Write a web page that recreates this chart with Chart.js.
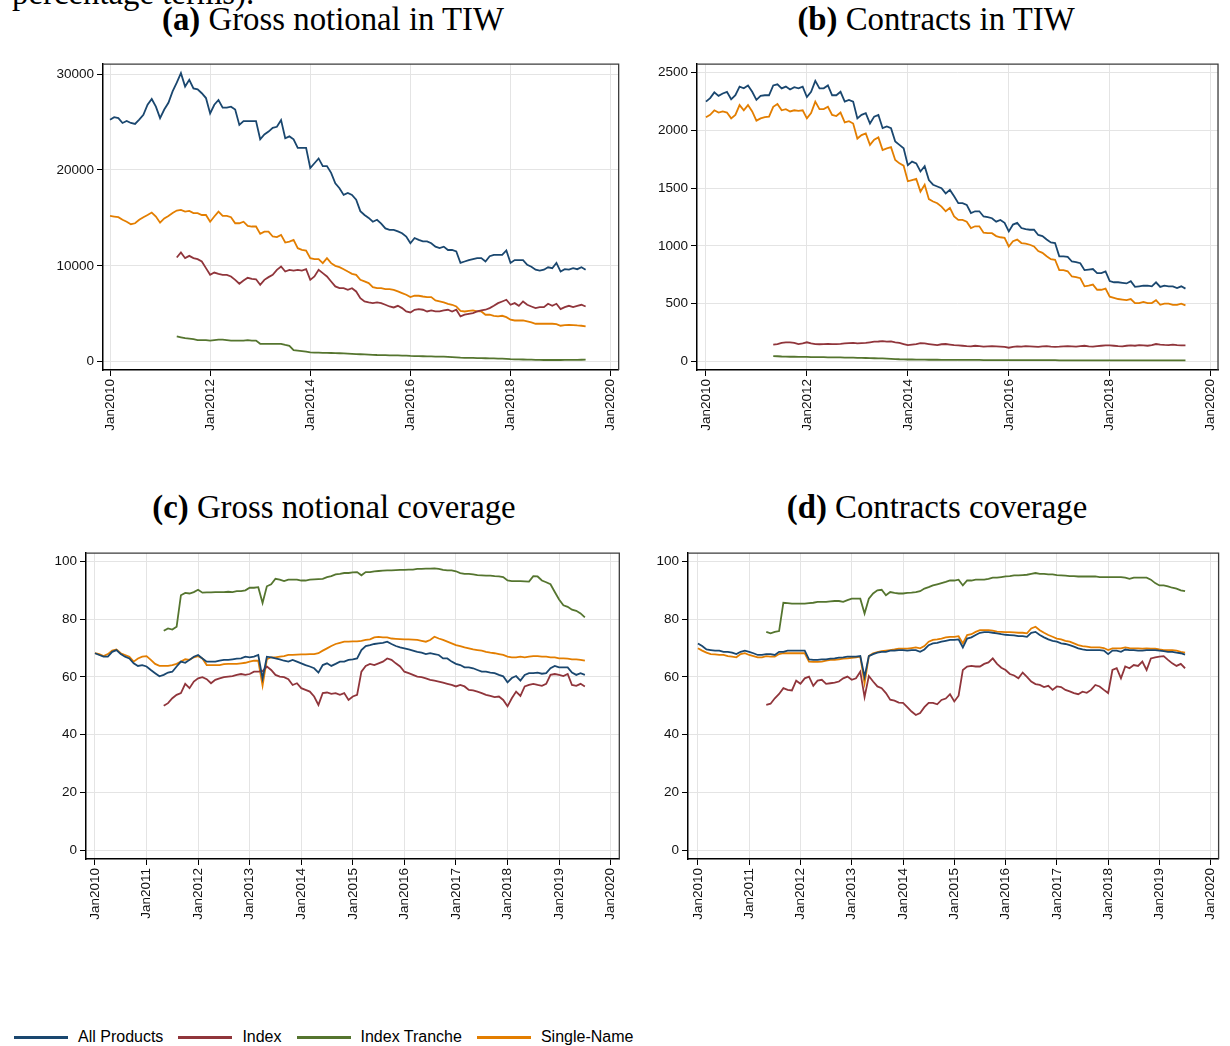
<!DOCTYPE html>
<html>
<head>
<meta charset="utf-8">
<script src="https://cdn.jsdelivr.net/npm/chart.js@4.4.1/dist/chart.umd.min.js"></script>
<style>
  body { margin:0; background:#fff; width:1230px; height:1046px; position:relative; overflow:hidden; font-family:"Liberation Sans", Arial, sans-serif; }
  canvas { position:absolute; }
  .ttl { position:absolute; font-family:"Liberation Serif", serif; font-size:32.8px; line-height:32px; white-space:nowrap; color:#000; }
  .ttl.c { transform:translateX(-50%); }
  #legend { position:absolute; left:14px; top:1028px; display:flex; align-items:center; font-size:16px; color:#000; }
  #legend .ln { display:inline-block; width:54px; height:3px; margin-right:10px; }
  #legend .tx { margin-right:15px; }
</style>
</head>
<body>
<div class="ttl" style="left:12px;top:-23px">percentage terms).</div>
<div class="ttl c" style="left:333px;top:3px"><b>(a)</b> Gross notional in TIW</div>
<div class="ttl c" style="left:936px;top:3px"><b>(b)</b> Contracts in TIW</div>
<div class="ttl c" style="left:334px;top:491px"><b>(c)</b> Gross notional coverage</div>
<div class="ttl c" style="left:937px;top:491px"><b>(d)</b> Contracts coverage</div>

<canvas id="chartA" width="590" height="402" style="left:40px;top:53px"></canvas>
<canvas id="chartB" width="590" height="402" style="left:640px;top:53px"></canvas>
<canvas id="chartC" width="600" height="402" style="left:30px;top:542px"></canvas>
<canvas id="chartD" width="600" height="402" style="left:630px;top:542px"></canvas>
<div id="legend"></div>

<script>
// monthly observations, Jan 2010 .. Jul 2019; Index / Index Tranche start May 2011
var startYear = 2010;
var indexStart = 16;

var seriesNames = ['All Products', 'Index', 'Index Tranche', 'Single-Name'];
var seriesColors = ['#1a476f', '#90353b', '#55752f', '#e37e00'];

// (a) gross notional in TIW
var notionalAll = [
  25240,25500,25400,24900,25100,24900,24800,25250,25750,26800,27400,26600,
  25400,26300,27000,28200,29100,30100,28700,29400,28500,28400,28000,27500,
  25900,26800,27300,26500,26500,26600,26300,24700,25100,25100,25100,25100,
  23200,23700,24000,24400,24500,25200,23300,23500,23200,22300,22300,22300,
  20200,20700,21200,20400,20400,19700,18600,18100,17400,17600,17400,16900,
  15700,15300,15000,14600,14800,14400,13900,13750,13750,13600,13400,13050,
  12350,12900,12700,12550,12550,12350,12000,11850,12000,11650,11650,11500,
  10300,10450,10600,10700,10800,10800,10450,11000,11150,11150,11150,11600,
  10300,10600,10600,10600,10100,9900,9600,9500,9600,9850,9750,10300,
  9400,9650,9600,9750,9650,9850,9600
];
var notionalIndex = [
  10870,11400,10800,11040,10800,10700,10450,9760,
  9060,9300,9170,9060,9060,8890,8540,8130,8470,8750,8650,8600,
  8020,8540,8820,9060,9580,9930,9410,9580,9500,9580,9500,9650,
  8540,8890,9580,9240,8890,8370,7850,7670,7670,7500,7670,7330,
  6630,6280,6180,6110,6180,6110,5940,5760,5660,5830,5590,5240,
  5140,5420,5490,5420,5240,5350,5240,5240,5350,5420,5240,5420,
  4720,4900,5000,5070,5240,5350,5420,5590,5830,6110,6280,6460,
  5940,6110,5830,6280,5940,5760,5590,5690,5690,6040,5830,6040,
  5490,5690,5830,5690,5830,5940,5760
];
var notionalTranche = [
  2650,2550,2450,2400,2350,2250,2250,2250,
  2200,2250,2300,2300,2250,2200,2200,2200,2200,2250,2200,2200,
  1870,1870,1870,1870,1870,1870,1750,1650,1200,1150,1100,1050,
  970,950,950,930,920,910,900,880,860,840,820,800,
  780,760,740,720,700,690,680,670,660,650,640,630,
  600,590,580,570,560,550,540,530,520,500,480,460,
  420,410,400,390,380,370,360,350,340,330,320,300,
  260,250,240,230,220,210,200,190,180,180,180,180,
  180,185,190,195,200,205,210
];
var notionalSingle = [
  15200,15140,15070,14800,14600,14340,14440,14800,15070,15300,15560,15140,
  14500,14950,15200,15500,15760,15830,15660,15730,15500,15500,15300,15300,
  14600,15140,15660,15200,15200,15070,14440,14440,14600,14170,14100,14100,
  13330,13570,13570,13060,13000,13230,12430,12530,12700,11840,11670,11600,
  10800,10700,10700,10280,10800,10280,10000,9860,9650,9400,9170,9060,
  8540,8370,8200,7780,7670,7670,7570,7570,7500,7330,7150,6980,
  6740,6880,6880,6800,6740,6740,6390,6280,6180,6040,5940,5760,
  5310,5240,5310,5350,5240,5240,4900,4900,4790,4720,4790,4650,
  4380,4300,4300,4300,4200,4100,3960,3960,3960,3960,3960,3920,
  3750,3820,3850,3820,3780,3750,3680
];

// (b) contracts in TIW
var contractsAll = [
  2250,2280,2330,2300,2320,2335,2270,2305,2380,2365,2390,2335,
  2265,2300,2305,2305,2390,2400,2365,2380,2355,2375,2365,2380,
  2290,2335,2430,2365,2365,2390,2305,2305,2335,2250,2265,2250,
  2105,2135,2150,2060,2120,2135,2020,2035,2020,1905,1875,1845,
  1700,1730,1715,1645,1690,1570,1530,1515,1500,1455,1485,1430,
  1370,1370,1355,1285,1300,1300,1255,1250,1240,1210,1225,1200,
  1125,1185,1200,1155,1145,1140,1140,1095,1085,1055,1030,1025,
  910,910,905,865,860,850,790,795,800,765,765,780,
  695,685,685,680,675,695,645,650,655,655,650,685,
  645,655,650,650,635,650,630
];
var contractsIndex = [
  145,150,160,165,165,160,150,155,
  165,155,150,148,150,152,150,150,152,155,158,160,
  155,158,160,165,170,172,175,170,172,165,160,150,
  140,145,150,158,155,150,145,140,148,150,145,140,
  138,135,132,130,135,132,128,130,132,130,128,125,
  118,125,130,128,132,130,128,125,130,132,128,125,
  127,130,132,130,128,132,135,130,128,132,135,138,
  138,135,132,130,135,138,135,140,138,135,140,150,
  145,142,140,145,140,138,138
];
var contractsTranche = [
  45,44,42,41,40,40,39,38,
  38,37,37,36,36,35,35,34,34,33,33,32,
  30,30,29,28,27,26,25,24,22,20,18,17,
  16,16,15,15,15,14,14,14,13,13,13,13,
  12,12,12,12,12,12,11,11,11,11,11,11,
  10,10,10,10,10,10,10,10,10,10,10,10,
  9,9,9,9,9,9,9,9,9,9,9,9,
  8,8,8,8,8,8,8,8,8,8,8,8,
  8,8,8,8,8,8,8
];
var contractsSingle = [
  2115,2135,2175,2155,2165,2155,2105,2135,2220,2175,2220,2165,
  2085,2105,2115,2120,2205,2230,2175,2185,2165,2175,2170,2175,
  2105,2150,2250,2185,2185,2205,2135,2125,2155,2070,2080,2060,
  1930,1960,1975,1875,1920,1940,1830,1845,1855,1745,1715,1695,
  1560,1570,1580,1470,1530,1405,1385,1370,1340,1300,1330,1255,
  1225,1225,1210,1155,1170,1170,1115,1110,1110,1085,1075,1070,
  995,1040,1055,1025,1020,1010,995,955,940,910,885,880,
  790,790,780,735,730,720,650,655,665,620,620,630,
  560,550,540,535,530,540,505,505,515,505,505,530,
  490,500,500,490,490,500,485
];

// (c) gross notional coverage, %
var notionalCovAll = [
  68.2,67.6,67.0,67.0,68.7,69.3,67.9,67.0,66.4,64.7,63.8,64.1,
  63.6,62.4,61.3,60.2,60.7,61.5,61.8,63.6,65.3,64.9,65.9,67.0,
  67.6,66.4,65.3,65.3,65.3,65.6,65.9,65.9,66.1,66.3,66.4,67.0,
  66.8,67.0,67.6,59.5,67.0,66.8,66.4,66.1,65.6,65.3,65.9,65.3,
  64.7,64.1,63.6,63.0,61.5,64.1,64.7,63.8,64.5,65.3,65.3,65.9,
  66.1,66.4,69.3,70.7,71.0,71.4,71.6,71.8,72.2,71.4,70.7,70.2,
  69.9,69.5,69.1,68.7,68.4,67.9,68.2,67.9,67.6,66.4,66.4,65.3,
  64.5,64.1,63.3,63.3,63.0,62.4,61.8,61.8,61.5,61.3,60.7,60.2,
  58.1,59.6,60.3,58.7,60.7,61.3,61.3,61.5,61.1,61.3,63.0,63.8,
  63.3,63.3,63.3,61.5,60.7,61.3,60.7
];
var notionalCovIndex = [
  50.0,50.9,52.6,53.8,54.4,57.6,56.1,58.4,
  59.5,59.9,59.2,57.8,59.0,59.5,59.9,60.1,60.3,60.7,61.0,60.7,
  61.0,61.8,61.8,62.0,63.6,62.4,60.7,60.1,59.9,59.2,57.2,57.8,
  56.1,55.5,54.9,53.2,50.3,54.4,54.6,54.1,54.4,53.8,54.4,52.0,
  53.2,53.8,61.8,63.8,64.5,64.1,64.7,65.3,66.4,65.9,64.7,63.6,
  61.8,61.3,60.7,60.1,59.9,59.5,59.0,58.7,58.4,58.0,57.6,57.2,
  56.7,57.2,56.7,55.5,55.3,54.9,54.4,53.8,53.4,53.0,53.2,52.0,
  49.8,52.6,54.9,53.4,56.7,57.2,57.6,57.2,56.9,57.6,60.7,61.0,
  60.7,60.3,61.0,57.2,56.9,57.6,56.7
];
var notionalCovTranche = [
  76.0,76.8,76.4,77.4,88.3,89.1,88.9,89.4,
  90.2,89.2,89.3,89.3,89.4,89.4,89.4,89.5,89.4,89.7,89.7,90.0,
  90.9,90.9,91.1,85.6,91.4,92.1,94.0,93.7,93.2,93.7,93.7,93.7,
  93.4,93.4,93.7,93.8,93.9,94.0,94.6,94.9,95.5,95.7,96.0,96.0,
  96.2,96.3,95.2,96.3,96.3,96.6,96.7,96.8,96.9,96.9,97.0,97.1,
  97.1,97.2,97.2,97.4,97.4,97.5,97.5,97.6,97.4,97.1,96.9,96.9,
  96.6,96.0,95.7,95.7,95.5,95.3,95.2,95.1,95.1,94.9,94.8,94.6,
  93.4,93.2,93.2,93.2,93.1,93.0,94.9,94.8,93.4,92.8,92.1,89.4,
  86.8,84.8,84.3,83.3,82.9,82.0,80.6
];
var notionalCovSingle = [
  68.2,67.9,67.2,67.9,69.1,69.5,68.2,67.6,67.0,65.3,66.4,67.0,
  67.2,65.9,64.5,63.8,63.8,63.8,64.1,64.5,65.3,66.1,65.9,66.8,
  67.2,66.4,64.1,64.1,64.1,64.1,64.4,64.5,64.5,64.5,64.7,64.9,
  65.3,65.6,65.6,57.0,66.1,66.8,66.8,67.0,67.2,67.6,67.6,67.7,
  67.8,67.8,67.9,67.9,68.2,69.1,69.9,70.7,71.4,71.8,72.2,72.2,
  72.3,72.3,72.5,72.8,73.0,73.7,73.9,73.7,73.7,73.3,73.2,73.1,
  73.0,73.0,72.9,72.8,72.5,72.2,72.8,73.9,73.3,72.8,72.2,71.6,
  71.0,70.7,70.2,69.9,69.5,69.3,69.1,68.7,68.4,68.2,67.9,67.6,
  67.0,66.8,66.8,67.0,66.8,67.0,67.2,67.2,67.0,67.0,66.8,66.8,
  66.4,66.4,66.3,66.1,66.1,65.9,65.6
];

// (d) contracts coverage, %
var contractsCovAll = [
  71.6,70.7,69.5,69.3,69.1,69.1,68.7,68.7,68.4,67.9,68.7,69.1,
  68.7,68.2,67.6,67.6,67.9,67.9,67.6,68.7,68.7,69.1,69.1,69.1,
  69.1,69.1,66.1,65.9,65.9,66.1,66.1,66.3,66.4,66.7,66.8,67.0,
  67.0,67.0,67.2,60.0,67.2,67.9,68.4,68.7,68.7,69.1,69.1,69.3,
  69.3,69.1,69.3,69.3,68.7,69.5,71.0,71.6,71.8,72.2,72.5,72.8,
  72.8,73.0,70.2,73.3,73.7,74.5,75.3,75.5,75.5,75.3,75.1,74.8,
  74.6,74.5,74.4,74.1,74.1,73.9,75.3,75.6,74.5,73.7,73.0,72.5,
  72.2,71.6,71.4,71.0,70.5,69.9,69.5,69.3,69.3,69.3,69.3,69.1,
  67.9,69.1,69.1,68.7,69.5,69.3,69.3,69.1,69.1,69.3,69.3,69.3,
  69.1,68.9,68.7,68.7,68.4,68.2,67.7
];
var contractsCovIndex = [
  50.3,50.7,52.6,54.1,56.1,55.5,55.3,58.7,
  57.6,59.5,60.1,56.9,58.7,59.0,57.6,57.8,58.0,58.4,59.5,60.1,
  59.0,59.5,61.8,53.0,60.3,58.4,56.7,56.1,54.4,52.1,51.8,51.1,
  51.0,49.5,48.0,46.8,47.5,49.5,51.0,51.0,50.5,52.0,52.5,54.0,
  51.5,53.5,62.4,63.6,63.8,63.6,63.6,64.5,65.0,66.4,64.5,63.2,
  62.4,61.0,60.5,59.5,61.5,60.0,58.4,57.5,57.2,56.5,56.9,55.5,
  56.7,56.5,55.5,55.0,54.4,54.0,54.9,54.5,55.5,57.2,56.7,55.5,
  54.4,62.4,63.0,59.5,63.6,63.0,64.1,63.8,65.3,62.4,66.4,66.8,
  67.0,67.2,65.9,64.7,63.8,64.5,63.0
];
var contractsCovTranche = [
  75.6,75.1,75.6,75.9,85.7,85.6,85.4,85.4,
  85.4,85.4,85.6,85.7,86.0,86.0,86.0,86.2,86.3,86.3,86.0,86.6,
  87.1,87.1,87.1,82.0,87.1,88.9,90.0,90.2,88.3,89.4,89.1,88.9,
  88.9,89.1,89.2,89.4,89.7,90.6,91.1,91.7,92.1,92.5,92.9,93.4,
  93.4,93.7,91.7,93.4,93.4,93.7,93.7,93.7,94.0,94.4,94.4,94.6,
  94.8,94.9,95.2,95.2,95.3,95.4,95.7,96.0,95.7,95.7,95.5,95.5,
  95.3,95.2,95.1,94.9,94.9,94.8,94.8,94.8,94.8,94.8,94.6,94.6,
  94.6,94.6,94.6,94.6,94.4,94.0,94.4,94.4,94.4,94.4,93.7,92.5,
  91.7,91.7,91.4,90.9,90.6,90.0,89.7
];
var contractsCovSingle = [
  69.9,69.1,68.4,67.9,67.8,67.6,67.6,67.2,67.0,66.8,67.9,68.2,
  67.6,67.2,66.8,66.8,67.2,67.0,67.0,67.9,68.2,68.2,68.2,68.2,
  68.2,68.2,65.3,65.2,65.2,65.3,65.6,65.9,65.9,66.1,66.3,66.4,
  66.6,66.8,67.0,57.8,67.2,68.2,68.6,68.9,69.1,69.3,69.5,69.8,
  69.8,69.8,70.0,70.2,69.9,70.7,72.2,72.8,73.0,73.3,73.7,73.9,
  73.9,74.1,71.6,74.5,74.8,75.6,76.2,76.2,76.2,76.0,75.7,75.6,
  75.5,75.5,75.4,75.3,75.3,75.1,76.8,77.4,76.2,75.3,74.5,73.9,
  73.3,73.0,72.5,72.2,71.6,71.0,70.7,70.5,70.2,70.2,70.2,70.0,
  69.3,69.9,69.9,69.9,70.2,70.0,69.9,69.9,69.8,69.9,69.8,69.8,
  69.5,69.3,69.3,69.3,69.1,68.7,68.4
];

// axis ticks
var yearTicksTwo = [2010, 2012, 2014, 2016, 2018, 2020];
var yearTicksOne = [2010, 2011, 2012, 2013, 2014, 2015, 2016, 2017, 2018, 2019, 2020];
var notionalTicks = [0, 10000, 20000, 30000];
var contractsTicks = [0, 500, 1000, 1500, 2000, 2500];
var coverageTicks = [0, 20, 40, 60, 80, 100];

function toPoints(vals, offset) {
  return vals.map(function (v, i) { return { x: startYear + (i + offset) / 12, y: v }; });
}

var framePlugin = {
  id: 'frame',
  afterDraw: function (chart) {
    var a = chart.chartArea, ctx = chart.ctx;
    ctx.save();
    ctx.strokeStyle = '#3c3c3c';
    ctx.lineWidth = 1.3;
    ctx.beginPath();
    ctx.moveTo(a.left, a.top);
    ctx.lineTo(a.right, a.top);
    ctx.lineTo(a.right, a.bottom);
    ctx.stroke();
    ctx.restore();
  }
};

var tickFont = { family: '"Liberation Sans", Arial, sans-serif', size: 13.5 };

function makeChart(id, all, idx, tranche, single, opt) {
  var sets = [all, idx, tranche, single];
  var offsets = [0, indexStart, indexStart, 0];
  var datasets = sets.map(function (vals, k) {
    return {
      label: seriesNames[k],
      data: toPoints(vals, offsets[k]),
      borderColor: seriesColors[k],
      backgroundColor: seriesColors[k],
      borderWidth: 1.8,
      pointRadius: 0,
      tension: 0,
      fill: false
    };
  });
  return new Chart(document.getElementById(id), {
    type: 'line',
    data: { datasets: datasets },
    options: {
      responsive: false,
      animation: false,
      layout: { padding: { top: opt.padTop, right: opt.padRight, left: 0, bottom: 0 } },
      plugins: { legend: { display: false }, tooltip: { enabled: false } },
      scales: {
        x: {
          type: 'linear',
          min: opt.xMin,
          max: opt.xMax,
          afterBuildTicks: function (s) { s.ticks = opt.xTicks.map(function (v) { return { value: v }; }); },
          afterFit: function (s) { s.height = 85; },
          ticks: {
            autoSkip: false, minRotation: 90, maxRotation: 90, padding: 3,
            color: '#111', font: tickFont,
            callback: function (v) { return 'Jan' + v; }
          },
          grid: { color: '#e4e4e4', lineWidth: 1, tickColor: '#000', tickLength: 6 },
          border: { color: '#000', width: 1.5 }
        },
        y: {
          min: opt.yMin,
          max: opt.yMax,
          afterBuildTicks: function (s) { s.ticks = opt.yTicks.map(function (v) { return { value: v }; }); },
          afterFit: function (s) { s.width = opt.yWidth; },
          ticks: { padding: 3, color: '#111', font: tickFont, callback: function (v) { return String(v); } },
          grid: { color: '#e4e4e4', lineWidth: 1, tickColor: '#000', tickLength: 6 },
          border: { color: '#000', width: 1.5 }
        }
      }
    },
    plugins: [framePlugin]
  });
}

makeChart('chartA', notionalAll, notionalIndex, notionalTranche, notionalSingle, {
  xMin: 2009.86, xMax: 2020.16, xTicks: yearTicksTwo,
  yMin: -865, yMax: 31040, yTicks: notionalTicks, yWidth: 63, padTop: 8, padRight: 9
});
makeChart('chartB', contractsAll, contractsIndex, contractsTranche, contractsSingle, {
  xMin: 2009.823, xMax: 2020.145, xTicks: yearTicksTwo,
  yMin: -75, yMax: 2575, yTicks: contractsTicks, yWidth: 57, padTop: 8, padRight: 7
});
makeChart('chartC', notionalCovAll, notionalCovIndex, notionalCovTranche, notionalCovSingle, {
  xMin: 2009.826, xMax: 2020.168, xTicks: yearTicksOne,
  yMin: -3.1, yMax: 102.9, yTicks: coverageTicks, yWidth: 56, padTop: 9, padRight: 9
});
makeChart('chartD', contractsCovAll, contractsCovIndex, contractsCovTranche, contractsCovSingle, {
  xMin: 2009.807, xMax: 2020.154, xTicks: yearTicksOne,
  yMin: -3.1, yMax: 102.9, yTicks: coverageTicks, yWidth: 58, padTop: 9, padRight: 6
});

// legend
var legend = document.getElementById('legend');
seriesNames.forEach(function (name, k) {
  var ln = document.createElement('span');
  ln.className = 'ln';
  ln.style.background = seriesColors[k];
  var tx = document.createElement('span');
  tx.className = 'tx';
  tx.textContent = name;
  legend.appendChild(ln);
  legend.appendChild(tx);
});
</script>
</body>
</html>
